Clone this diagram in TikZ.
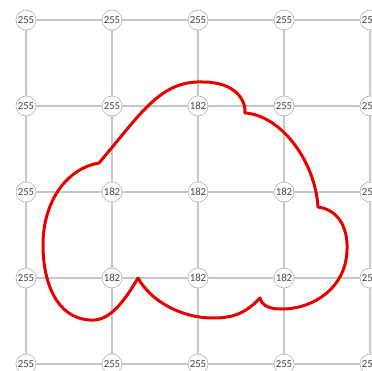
\documentclass[tikz,border=0pt]{standalone}
\usepackage{fontspec}
\setmainfont{Carlito}
\begin{document}
\begin{tikzpicture}[x=1pt,y=-1pt,
  gridline/.style={draw=black!22,line width=1.1pt},
  val/.style={circle,draw=black!30,fill=white,line width=0.6pt,minimum size=20pt,inner sep=0pt,font=\fontsize{10.8}{11}\selectfont,text=black!72},
  cloud/.style={draw=red!90!black,line width=3pt,line join=round}]
\useasboundingbox (0,0) rectangle (372,370);
\clip (0,0) rectangle (372,370);
% node values, row by row
\def\xs{{26,112,198,284,370}}
\def\ys{{20,106,192,278,364}}
\foreach \r/\vals in {1/{255,255,255,255,255},2/{255,255,182,255,255},3/{255,182,182,182,255},4/{255,182,182,182,255},5/{255,255,255,255,255}}{
  \foreach \v [count=\c] in \vals {
    \pgfmathsetmacro{\px}{\xs[\c-1]}
    \pgfmathsetmacro{\py}{\ys[\r-1]}
    \coordinate (p-\r-\c) at (\px,\py);
  }
}
% grid lines
\foreach \r in {1,...,5}{
  \foreach \c [evaluate=\c as \cn using int(\c+1)] in {1,...,4}{
    \draw[gridline] (p-\r-\c) -- (p-\r-\cn);
  }
}
\foreach \c in {1,...,5}{
  \foreach \r [evaluate=\r as \rn using int(\r+1)] in {1,...,4}{
    \draw[gridline] (p-\r-\c) -- (p-\rn-\c);
  }
}
% nodes
\foreach \r/\vals in {1/{255,255,255,255,255},2/{255,255,182,255,255},3/{255,182,182,182,255},4/{255,182,182,182,255},5/{255,255,255,255,255}}{
  \foreach \v [count=\c] in \vals {
    \node[val] (n-\r-\c) at (p-\r-\c) {\v};
  }
}
% cloud outline
\draw[cloud]
  (99,163) .. controls (140,115) and (160,80) .. (203,82)
  .. controls (235,82) and (246,100) .. (245,113)
  .. controls (280,115) and (315,160) .. (318,207)
  .. controls (340,210) and (348,230) .. (347,250)
  .. controls (346,290) and (310,310) .. (280,309)
  .. controls (268,309) and (261,304) .. (260,298)
  .. controls (245,314) and (232,318) .. (213,318)
  .. controls (180,318) and (150,300) .. (138,278)
  .. controls (125,300) and (110,322) .. (90,320)
  .. controls (55,318) and (43,280) .. (43,245)
  .. controls (43,200) and (68,168) .. (99,163) -- cycle;
\end{tikzpicture}
\end{document}
